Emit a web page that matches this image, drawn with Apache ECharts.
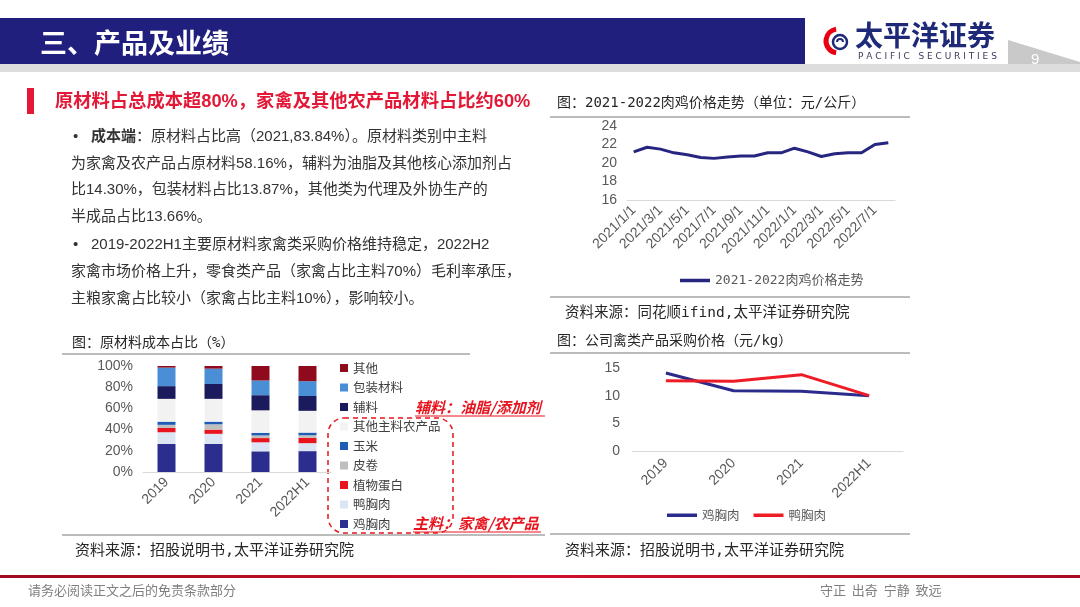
<!DOCTYPE html>
<html><head><meta charset="utf-8">
<script src="https://cdn.jsdelivr.net/npm/echarts@6/dist/echarts.min.js"></script>
<style>html,body{margin:0;padding:0;background:#fff;}#a,#b{position:absolute;left:0;top:0;width:1080px;height:607px;}#b{pointer-events:none;}</style>
</head><body><div id="a"></div><div id="b"></div>
<script>
// ---- data: raw material cost share (%) ----
const costYears = ['2019', '2020', '2021', '2022H1'];
const chickenBreast = [26.5, 26.5, 19.5, 19.7];
const duckBreast = [11, 9.5, 8.5, 7.5];
const plantProtein = [4, 4, 4, 5];
const skinRoll = [3, 5, 2.5, 2.5];
const corn = [3, 2.5, 2.5, 2.5];
const otherMainAgri = [21.5, 21.5, 21.16, 20.5];
const auxMaterial = [12, 14, 14.30, 14];
const packaging = [17.5, 14.5, 13.87, 14];
const others = [1.5, 2.5, 13.66, 14.3];
const costNames = ['鸡胸肉', '鸭胸肉', '植物蛋白', '皮卷', '玉米', '其他主料农产品', '辅料', '包装材料', '其他'];
const costColors = ['#2B2E8E', '#DCE5F3', '#E8141E', '#BFBFBF', '#1F5DB4', '#F2F2F2', '#1B1A5C', '#4A8ED6', '#8E0A1C'];
const costTicks = [0, 20, 40, 60, 80, 100];

// ---- data: broiler price 2021-2022 (元/公斤) ----
const broilerMonths = ['2021/1/1','2021/2/1','2021/3/1','2021/4/1','2021/5/1','2021/6/1','2021/7/1','2021/8/1','2021/9/1','2021/10/1','2021/11/1','2021/12/1','2022/1/1','2022/2/1','2022/3/1','2022/4/1','2022/5/1','2022/6/1','2022/7/1','2022/8/1'];
const broilerPrice = [21.2, 21.7, 21.5, 21.1, 20.9, 20.6, 20.5, 20.65, 20.75, 20.75, 21.1, 21.1, 21.6, 21.2, 20.7, 21.0, 21.1, 21.1, 22.0, 22.2];
const broilerTicks = [16, 18, 20, 22, 24];

// ---- data: poultry purchase price (元/kg) ----
const purchaseYears = ['2019', '2020', '2021', '2022H1'];
const chickenBreastPrice = [14.1, 10.9, 10.8, 10.0];
const duckBreastPrice = [12.7, 12.6, 13.8, 10.0];
const purchaseTicks = [0, 5, 10, 15];

const CN = "'Noto Sans CJK SC', sans-serif";
const MIX = "'Liberation Sans', 'Noto Sans CJK SC', sans-serif";
const MONO = "'DejaVu Sans Mono', 'Noto Sans CJK SC', monospace";
const costSeriesData = [chickenBreast, duckBreast, plantProtein, skinRoll, corn, otherMainAgri, auxMaterial, packaging, others];

function txt(x, y, text, font, fill, extra) {
  return Object.assign({ type: 'text', x: x, y: y, silent: true,
    style: Object.assign({ text: text, font: font, fill: fill, textVerticalAlign: 'middle' }, extra || {}) });
}
function hline(x1, x2, y, color, w) {
  return { type: 'line', silent: true, shape: { x1: x1, y1: y, x2: x2, y2: y }, style: { stroke: color, lineWidth: w || 1.5 } };
}

const bodyFont = "15px " + MIX;
const graphics = [
  // header
  { type: 'rect', shape: { x: 0, y: 18, width: 805, height: 46 }, style: { fill: '#211F7E' } },
  { type: 'rect', shape: { x: 0, y: 64, width: 1080, height: 8 }, style: { fill: '#DDDDDD' } },
  { type: 'polygon', shape: { points: [[1008, 40], [1008, 64], [1080, 64], [1080, 62]] }, style: { fill: '#C9C9C9' } },
  txt(40, 43, '三、产品及业绩', "bold 27px " + CN, '#FFFFFF'),
  txt(1031, 60, '9', "15px 'Liberation Sans'", '#FFFFFF'),
  // logo
  { type: 'arc', shape: { cx: 838, cy: 41, r: 12, startAngle: Math.PI * 0.55, endAngle: Math.PI * 1.45 }, style: { stroke: '#E60012', lineWidth: 5, fill: null } },
  { type: 'circle', shape: { cx: 840, cy: 42, r: 7 }, style: { stroke: '#1E2A78', lineWidth: 2.5, fill: null } },
  { type: 'arc', shape: { cx: 840, cy: 42, r: 3, startAngle: Math.PI * 1.0, endAngle: Math.PI * 2.0 }, style: { stroke: '#1E2A78', lineWidth: 2, fill: null } },
  txt(855, 35, '太平洋证券', "bold 28px " + CN, '#1E2A78'),
  txt(858, 57, 'P A C I F I C   S E C U R I T I E S', "9px 'DejaVu Sans'", '#3A3A5A'),
  // headline
  { type: 'rect', shape: { x: 27, y: 88, width: 7, height: 26 }, style: { fill: '#E31837' } },
  txt(55, 102, '原材料占总成本超80%，家禽及其他农产品材料占比约60%', "bold 18.3px " + MIX, '#E31837'),
  // body text
  txt(73, 137, '•', bodyFont, '#333333'),
  txt(91, 137, '{b|成本端}：原材料占比高（2021,83.84%）。原材料类别中主料', bodyFont, '#333333',
      { rich: { b: { font: "bold 15px " + MIX, fill: '#333333' } } }),
  txt(71, 164, '为家禽及农产品占原材料58.16%，辅料为油脂及其他核心添加剂占', bodyFont, '#333333'),
  txt(71, 190, '比14.30%，包装材料占比13.87%，其他类为代理及外协生产的', bodyFont, '#333333'),
  txt(71, 217, '半成品占比13.66%。', bodyFont, '#333333'),
  txt(73, 245, '•', bodyFont, '#333333'),
  txt(91, 245, '2019-2022H1主要原材料家禽类采购价格维持稳定，2022H2', bodyFont, '#333333'),
  txt(71, 272, '家禽市场价格上升，零食类产品（家禽占比主料70%）毛利率承压，', bodyFont, '#333333'),
  txt(71, 299, '主粮家禽占比较小（家禽占比主料10%），影响较小。', bodyFont, '#333333'),
  // left chart frame
  txt(72, 343, '图：原材料成本占比（%）', "14px " + MONO, '#262626'),
  hline(62, 470, 354, '#A6A6A6'),
  hline(62, 545, 535, '#A6A6A6'),
  txt(75, 551, '资料来源：招股说明书,太平洋证券研究院', "15px " + MONO, '#262626'),
  { type: 'rect', shape: { x: 328, y: 418, width: 125, height: 115, r: 16 }, style: { fill: null, stroke: '#E8141E', lineWidth: 1.5, lineDash: [5, 4] } },
  txt(415, 407, '辅料：油脂/添加剂', "italic bold 15px " + CN, '#E8141E'),
  hline(415, 545, 416, '#E8141E', 1),
  txt(413, 523, '主料：家禽/农产品', "italic bold 15px " + CN, '#E8141E'),
  hline(413, 541, 532, '#E8141E', 1),
  // top-right chart frame
  txt(557, 103, '图：2021-2022肉鸡价格走势（单位：元/公斤）', "14px " + MONO, '#262626'),
  hline(550, 910, 117, '#A6A6A6'),
  hline(550, 910, 297, '#A6A6A6'),
  txt(565, 313, '资料来源：同花顺ifind,太平洋证券研究院', "14.5px " + MONO, '#262626'),
  // bottom-right chart frame
  txt(557, 341, '图：公司禽类产品采购价格（元/kg）', "14px " + MONO, '#262626'),
  hline(550, 910, 353, '#A6A6A6'),
  hline(550, 910, 534, '#A6A6A6'),
  txt(565, 551, '资料来源：招股说明书,太平洋证券研究院', "15px " + MONO, '#262626'),
  // footer
  { type: 'rect', shape: { x: 0, y: 575, width: 1080, height: 3 },
    style: { fill: new echarts.graphic.LinearGradient(0, 0, 1, 0, [{ offset: 0, color: '#9E0B1E' }, { offset: 0.5, color: '#D0102A' }, { offset: 1, color: '#A80C22' }]) } },
  txt(28, 590, '请务必阅读正文之后的免责条款部分', "13px " + CN, '#7F7F7F'),
  txt(820, 590, '守正  出奇  宁静  致远', "13px " + CN, '#7F7F7F')
];

const axisLabelStyle = { color: '#595959', fontSize: 14, fontFamily: MIX };

const chartA = echarts.init(document.getElementById('a'), null, { renderer: 'canvas' });
chartA.setOption({
  animation: false,
  backgroundColor: '#FFFFFF',
  graphic: { elements: graphics },
  grid: [
    { left: 143, top: 366, width: 188, height: 106 },
    { left: 627, top: 126, width: 268, height: 74 }
  ],
  legend: [
    { orient: 'vertical', left: 340, top: 361, padding: 0, icon: 'rect', itemWidth: 8, itemHeight: 8, itemGap: 5.5,
      textStyle: { fontSize: 12.5, lineHeight: 14, color: '#404040', fontFamily: CN },
      data: costNames.slice().reverse() },
    { left: 680, top: 274, padding: 0, icon: 'rect', itemWidth: 30, itemHeight: 3.5,
      textStyle: { fontSize: 13, color: '#595959', fontFamily: MONO },
      data: ['2021-2022肉鸡价格走势'] }
  ],
  xAxis: [
    { gridIndex: 0, type: 'category', data: costYears,
      axisLine: { lineStyle: { color: '#D9D9D9' } }, axisTick: { show: false },
      axisLabel: Object.assign({ rotate: 45, margin: 8 }, axisLabelStyle) },
    { gridIndex: 1, type: 'category', data: broilerMonths, boundaryGap: true,
      axisLine: { lineStyle: { color: '#D9D9D9' } }, axisTick: { show: false },
      axisLabel: Object.assign({ rotate: 45, margin: 8, interval: 1 }, axisLabelStyle) }
  ],
  yAxis: [
    { gridIndex: 0, type: 'value', min: costTicks[0], max: costTicks[costTicks.length - 1], interval: 20,
      axisLine: { show: false }, axisTick: { show: false }, splitLine: { show: false },
      axisLabel: Object.assign({ formatter: '{value}%', margin: 10 }, axisLabelStyle) },
    { gridIndex: 1, type: 'value', min: broilerTicks[0], max: broilerTicks[broilerTicks.length - 1], interval: 2,
      axisLine: { show: false }, axisTick: { show: false }, splitLine: { show: false },
      axisLabel: Object.assign({ margin: 10 }, axisLabelStyle) }
  ],
  series: costNames.map(function (n, i) {
    return { name: n, type: 'bar', stack: 'cost', xAxisIndex: 0, yAxisIndex: 0, barWidth: 18,
      itemStyle: { color: costColors[i] }, data: costSeriesData[i] };
  }).concat([
    { name: '2021-2022肉鸡价格走势', type: 'line', xAxisIndex: 1, yAxisIndex: 1, data: broilerPrice,
      showSymbol: false, symbol: 'none', lineStyle: { width: 3, color: '#262680' }, itemStyle: { color: '#262680' } }
  ])
});

const chartB = echarts.init(document.getElementById('b'), null, { renderer: 'canvas' });
chartB.setOption({
  animation: false,
  grid: { left: 632, top: 368, width: 271, height: 83 },
  legend: { left: 667, top: 509, padding: 0, icon: 'rect', itemWidth: 30, itemHeight: 3.5, itemGap: 14,
    textStyle: { fontSize: 12.5, color: '#595959', fontFamily: CN }, data: ['鸡胸肉', '鸭胸肉'] },
  xAxis: { type: 'category', data: purchaseYears,
    axisLine: { lineStyle: { color: '#D9D9D9' } }, axisTick: { show: false },
    axisLabel: Object.assign({ rotate: 45, margin: 10 }, axisLabelStyle) },
  yAxis: { type: 'value', min: purchaseTicks[0], max: purchaseTicks[purchaseTicks.length - 1], interval: 5,
    axisLine: { show: false }, axisTick: { show: false }, splitLine: { show: false },
    axisLabel: Object.assign({ margin: 12 }, axisLabelStyle) },
  series: [
    { name: '鸡胸肉', type: 'line', data: chickenBreastPrice, symbol: 'none',
      lineStyle: { width: 3, color: '#2B2B8C' }, itemStyle: { color: '#2B2B8C' } },
    { name: '鸭胸肉', type: 'line', data: duckBreastPrice, symbol: 'none',
      lineStyle: { width: 3, color: '#EE1C25' }, itemStyle: { color: '#EE1C25' } }
  ]
});
</script></body></html>
